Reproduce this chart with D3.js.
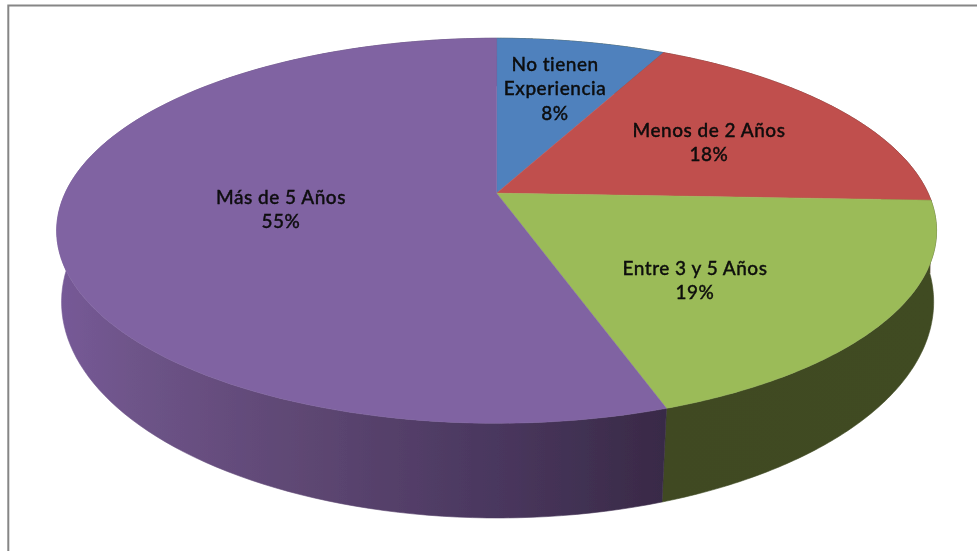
<!DOCTYPE html>
<html>
<head>
<meta charset="utf-8">
<script src="https://cdn.jsdelivr.net/npm/d3@7"></script>
<style>
html,body{margin:0;padding:0;background:#fff;overflow:hidden;}
svg{display:block;}
text{font-family:Lato,"Open Sans",sans-serif;font-weight:500;fill:#0a0a0a;stroke:#0a0a0a;stroke-width:0.3px;letter-spacing:0.5px;}
</style>
</head>
<body>
<div id="chart"></div>
<script>
const categories = ["No tienen Experiencia", "Menos de 2 Años", "Entre 3 y 5 Años", "Más de 5 Años"];
const values = [7.5, 18.1, 19.2, 55.2];
const labelLines = [["No tienen", "Experiencia"], ["Menos de 2 Años"], ["Entre 3 y 5 Años"], ["Más de 5 Años"]];

const topColors = ["#4f81bd", "#c0504d", "#9bbb59", "#8064a2"];
const labelCenters = [[555, 70.5], [709, 136.5], [695, 274.5], [281, 203.5]];

const W = 977, H = 551;
const svg = d3.select("#chart").append("svg").attr("width", W).attr("height", H);
const defs = svg.append("defs");
defs.append("filter").attr("id", "soft").attr("x", "-5%").attr("y", "-5%").attr("width", "110%").attr("height", "110%")
  .append("feGaussianBlur").attr("stdDeviation", 0.45);

const wallGrad = defs.append("linearGradient").attr("id", "purpleWall")
  .attr("gradientUnits", "userSpaceOnUse").attr("x1", 60).attr("x2", 663).attr("y1", 0).attr("y2", 0);
[[0, "#765a97"], [0.12, "#6e5489"], [0.4, "#5e4773"], [0.7, "#4b3860"], [1, "#392a47"]]
  .forEach(([o, c]) => wallGrad.append("stop").attr("offset", o).attr("stop-color", c));
const greenGrad = defs.append("linearGradient").attr("id", "greenWall")
  .attr("gradientUnits", "userSpaceOnUse").attr("x1", 663).attr("x2", 935).attr("y1", 0).attr("y2", 0);
[[0, "#3f4a23"], [1, "#414b24"]].forEach(([o, c]) => greenGrad.append("stop").attr("offset", o).attr("stop-color", c));

// Perspective projection of the two discs of the pie
function projector(cx, cy, R, c, k) {
  return a => {
    const d = 1 + k * Math.cos(a);
    return [cx + R * Math.sin(a) / d, cy - c * Math.cos(a) / d];
  };
}
const apex = [496.6, 193.2];
const topDisc = projector(apex[0], apex[1], 431.5, 185.2, 0.195);
const baseDisc = projector(497.6, 265.2, 429.7, 209.8, 0.17);

const pie = d3.pie().sort(null).value(d => d);
const slices = pie(values);
const samples = s => d3.range(0, 121).map(i => s.startAngle + (s.endAngle - s.startAngle) * i / 120);
const line = d3.line();

const wallFill = ["#3f4a23", "#5a2a28", "url(#greenWall)", "url(#purpleWall)"];
const chart = svg.append("g").attr("filter", "url(#soft)");

// side walls
chart.selectAll("path.wall").data(slices).join("path").attr("class", "wall")
  .attr("d", s => {
    const as = samples(s);
    return line(as.map(topDisc).concat(as.slice().reverse().map(baseDisc))) + "Z";
  })
  .attr("fill", (s, i) => wallFill[i])
  .attr("stroke", (s, i) => wallFill[i]).attr("stroke-width", 0.6);

// top faces
chart.selectAll("path.face").data(slices).join("path").attr("class", "face")
  .attr("d", s => line([apex].concat(samples(s).map(topDisc))) + "Z")
  .attr("fill", (s, i) => topColors[i])
  .attr("stroke", (s, i) => topColors[i]).attr("stroke-width", 0.5);

// frame: the right side runs off the page
svg.append("path").attr("d", `M8.3 ${H}V5.5H${W}`).attr("fill", "none")
  .attr("stroke", "#868686").attr("stroke-width", 2);

// data labels
const fmt = d3.format(".0f");
const labels = svg.append("g").attr("filter", "url(#soft)");
slices.forEach((s, i) => {
  const [x, y] = labelCenters[i];
  const lines = labelLines[i].concat([fmt(s.value) + "%"]);
  lines.forEach((t, j) => {
    labels.append("text").attr("x", x).attr("y", y + j * 24.6)
      .attr("text-anchor", "middle").attr("font-size", 19).text(t);
  });
});
</script>
</body>
</html>
